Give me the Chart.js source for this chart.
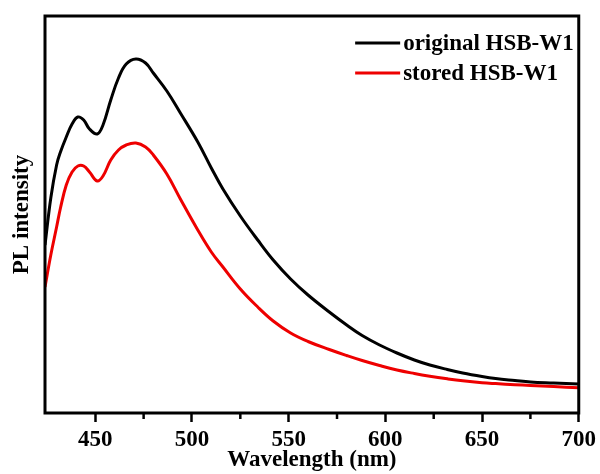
<!DOCTYPE html>
<html>
<head>
<meta charset="utf-8">
<script src="https://cdn.jsdelivr.net/npm/chart.js@4"></script>
<style>
  html, body { margin: 0; padding: 0; background: #fff; }
  #wrap { width: 600px; height: 474px; position: relative; }
</style>
</head>
<body>
<div id="wrap"><canvas id="pl-chart"></canvas></div>
<script>
/* ─── Data ──────────────────────────────────────────────────────────────── */
const wavelength = [424, 427, 430, 432, 435, 438, 441, 444, 447, 451, 454, 458, 462, 466, 471,
  476, 480, 487, 494, 503, 510, 516, 525, 534, 542, 551, 560, 571, 580, 588, 597,
  606, 615, 623, 632, 640, 650, 657, 667, 675, 687, 700];
const originalPL = [168, 215, 248, 261, 276, 289, 296, 293, 284, 279, 288, 313, 335, 349, 354,
  350, 340, 322, 300, 271, 245, 224, 197, 173, 153, 134, 118, 101, 88, 77.5, 68,
  60, 53, 48, 43.5, 40, 36.5, 34.5, 32.5, 31, 30, 29];
const storedPL = [126, 158, 186, 205, 228, 241, 247, 247, 241, 232, 237, 253, 263, 268, 270,
  266, 258, 239, 214, 183, 161, 146, 124, 106, 92, 80, 71.5, 63.5, 57.5, 52.5, 47.5,
  43, 39.5, 36.8, 34.2, 32.2, 30.3, 29.4, 28.3, 27.5, 26.4, 25.3];
const seriesNames = ['original HSB-W1', 'stored HSB-W1'];
const majorTicks = [450, 500, 550, 600, 650, 700];
const minorTicks = [475, 525, 575, 625, 675];

/* ─── Style ─────────────────────────────────────────────────────────────── */
const FONT = "'Times New Roman', 'Liberation Serif', serif";
const COLORS = ['#000000', '#ee0000'];

const toPoints = vals => vals.map((v, i) => ({ x: wavelength[i], y: v }));

/* frame, minor ticks and in-plot legend */
const framePlugin = {
  id: 'frame',
  afterDraw(chart) {
    const { ctx, chartArea: a, scales } = chart;
    ctx.save();
    ctx.strokeStyle = '#000';
    ctx.lineWidth = 3;
    ctx.strokeRect(a.left, a.top, a.right - a.left, a.bottom - a.top);

    ctx.lineWidth = 2.5;
    minorTicks.forEach(v => {
      const x = scales.x.getPixelForValue(v);
      ctx.beginPath();
      ctx.moveTo(x, a.bottom);
      ctx.lineTo(x, a.bottom + 6);
      ctx.stroke();
    });

    ctx.font = `bold 23px ${FONT}`;
    ctx.textBaseline = 'middle';
    ctx.textAlign = 'left';
    const textW = Math.max(...seriesNames.map(n => ctx.measureText(n).width));
    const textX = a.right - 5 - textW;
    chart.data.datasets.forEach((ds, i) => {
      const y = a.top + 27 + i * 30;
      ctx.strokeStyle = ds.borderColor;
      ctx.lineWidth = 3;
      ctx.beginPath();
      ctx.moveTo(textX - 48, y);
      ctx.lineTo(textX - 3, y);
      ctx.stroke();
      ctx.fillStyle = '#000';
      ctx.fillText(ds.label, textX, y + 1);
    });
    ctx.restore();
  }
};

new Chart(document.getElementById('pl-chart'), {
  type: 'line',
  data: {
    datasets: [
      { label: seriesNames[0], data: toPoints(originalPL) },
      { label: seriesNames[1], data: toPoints(storedPL) }
    ].map((ds, i) => ({
      ...ds,
      borderColor: COLORS[i],
      backgroundColor: COLORS[i],
      borderWidth: 3,
      pointRadius: 0,
      fill: false,
      tension: 0.4
    }))
  },
  options: {
    responsive: true,
    maintainAspectRatio: false,
    animation: false,
    layout: { padding: { left: 0, right: 21, top: 16, bottom: 0 } },
    plugins: { legend: { display: false }, tooltip: { enabled: false } },
    scales: {
      x: {
        type: 'linear',
        min: 424,
        max: 700,
        afterBuildTicks: s => { s.ticks = majorTicks.map(v => ({ value: v })); },
        afterFit: s => { s.height = 61; },
        border: { display: false },
        grid: { drawOnChartArea: false, tickLength: 9, tickWidth: 2.5, tickColor: '#000' },
        ticks: { color: '#000', padding: 4, maxRotation: 0, font: { family: FONT, size: 23, weight: 'bold' } },
        title: {
          display: true, text: 'Wavelength (nm)', color: '#000',
          padding: { top: 0, bottom: 0 },
          font: { family: FONT, size: 23, weight: 'bold' }
        }
      },
      y: {
        min: 0,
        max: 397,
        afterFit: s => { s.width = 45; },
        border: { display: false },
        grid: { display: false },
        ticks: { display: false },
        title: {
          display: true, text: 'PL intensity', color: '#000',
          padding: { top: 8, bottom: 0 },
          font: { family: FONT, size: 23, weight: 'bold' }
        }
      }
    }
  },
  plugins: [framePlugin]
});
</script>
</body>
</html>
